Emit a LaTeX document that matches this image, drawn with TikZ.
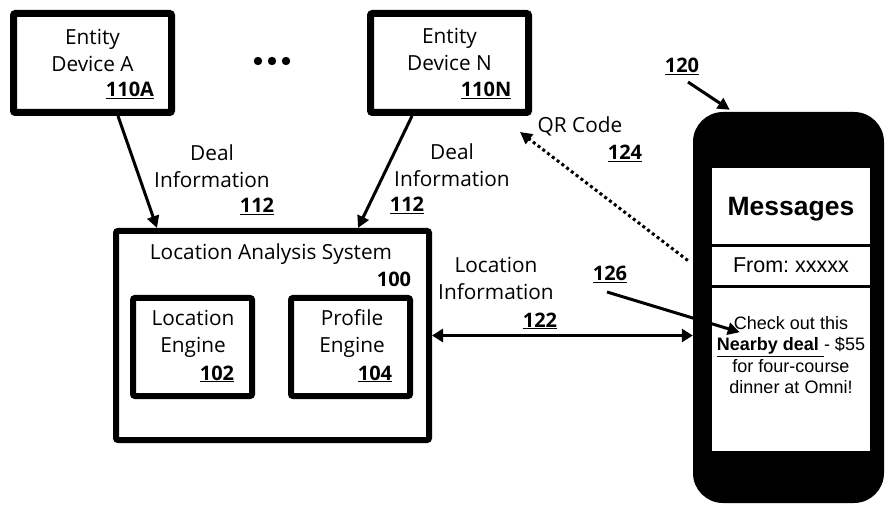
\documentclass[tikz,border=0pt]{standalone}
\usepackage{fontspec}
\setmainfont{Open Sans}
\newfontfamily\phonefont{Liberation Sans}
\usetikzlibrary{arrows.meta, positioning, calc}
\newcommand{\refnum}[1]{\underline{#1}}
\tikzstyle{device} = [rectangle, draw=black, line width=7pt, rounded corners=2pt, minimum width=158pt, minimum height=99pt, inner sep=0pt]
\tikzstyle{engine} = [rectangle, draw=black, line width=6pt, rounded corners=2pt, minimum width=119pt, minimum height=98pt, inner sep=0pt]
\tikzstyle{system} = [rectangle, draw=black, line width=6pt, rounded corners=2pt, minimum width=313pt, minimum height=209pt, inner sep=0pt]
\tikzstyle{phonebody} = [rectangle, fill=black, rounded corners=30pt, minimum width=191pt, minimum height=391pt, inner sep=0pt]
\tikzstyle{screen} = [rectangle, fill=white, minimum width=158pt, inner sep=0pt, font=\phonefont]
\tikzstyle{txt} = [inner sep=0pt, align=center, font=\fontsize{20.8}{27}\selectfont]
\tikzstyle{num} = [inner sep=0pt, anchor=base, font=\fontsize{20}{23}\selectfont\bfseries]
\tikzstyle{arrow_solid} = [line width=3pt, -{Triangle[length=12pt,width=12pt]}]
\tikzstyle{arrow_both} = [line width=3pt, {Triangle[length=11pt,width=13pt]}-{Triangle[length=11pt,width=13pt]}]
\tikzstyle{arrow_dotted} = [line width=3pt, dash pattern=on 3pt off 3pt, -{Triangle[length=12pt,width=12pt]}]

\begin{document}
\begin{tikzpicture}[x=1pt, y=-1pt]
	\useasboundingbox (0,0) rectangle (887,505);

		% Entity devices
		\node (devA) [device] at (92.5,63) {};
		\node (devAtext) [txt] at ($(devA)+(0,-13)$) {Entity\\Device A};
		\node (devAnum) [num] at (130,97) {\refnum{110A}};

		\node (devN) [device] at (449.5,63) {};
		\node (devNtext) [txt] at ($(devN)+(0,-14)$) {Entity\\Device N};
		\node (devNnum) [num] at (486,97) {\refnum{110N}};

		\foreach \x in {258,272,286} \fill (\x,61) circle (4.2pt);

		% Location analysis system
		\node (las) [system] at (272.5,335.5) {};
		\node (lasText) [txt, anchor=base] at (271,260) {Location Analysis System};
		\node (lasNum) [num] at (394,287) {100};

		\node (locEngine) [engine] at (192.5,347) {};
		\node (locText) [txt] at (193,334) {Location\\Engine};
		\node (locNum) [num] at (217,380) {\refnum{102}};

		\node (profEngine) [engine] at (350.5,347) {};
		\node (profText) [txt] at (352,334) {Profile\\Engine};
		\node (profNum) [num] at (375,380) {\refnum{104}};

		% User device
		\node (phone) [phonebody] at (788.5,307.5) {};
		\node (msgHead) [screen, minimum height=76pt, text height=19pt, text depth=0pt, font=\phonefont\fontsize{26.5}{30}\selectfont\bfseries] at (791,206) {Messages};
		\node (msgFrom) [screen, minimum height=38pt, text height=14pt, text depth=0pt, font=\phonefont\fontsize{21.5}{24}\selectfont] at (791,266) {From:\ xxxxx};
		\node (msgBody) [screen, minimum height=163pt] at (791,369.5) {};
		\node (msgText) [inner sep=0pt, align=center, font=\phonefont\fontsize{18}{21.3}\selectfont] at (791,355) {Check out this\\\underline{\textbf{Nearby deal }}- \$55\\for four-course\\dinner at Omni!};
		\node (phoneNum) [num] at (682,73) {\refnum{120}};
		\node (msgNum) [num] at (610,281) {\refnum{126}};

		% Labels on the connectors
		\node (deal1) [txt] at (212,166) {Deal\\Information};
		\node (deal1Num) [num] at (257,213) {\refnum{112}};
		\node (deal2) [txt] at (452,165) {Deal\\Information};
		\node (deal2Num) [num] at (407,212) {\refnum{112}};
		\node (qr) [txt, anchor=base] at (580,133) {QR Code};
		\node (qrNum) [num] at (625,160) {\refnum{124}};
		\node (locInfo) [txt] at (496,278.5) {Location\\Information};
		\node (locInfoNum) [num] at (540,327) {\refnum{122}};

		% -
		\draw [arrow_solid] ($(devA.south)+(25.5,0)$) -- ($(las.north west)+(44,0)$);
		\draw [arrow_solid] ($(devN.south)+(-37.5,0)$) -- ($(las.north east)+(-74,0)$);
		% -
		\draw [arrow_both] (las.east) -- (las.east -| phone.west);
		\draw [arrow_dotted] ($(phone.west)+(-5,-47)$) -- ($(devN.south east)+(-12,16)$);
		% -
		\coordinate (tail120) at (688,82);
		\draw [arrow_solid] (tail120) -- ($(phone.north west)+(37,-2)$);
		\coordinate (tail126) at (607,292);
		\draw [arrow_solid] (tail126) -- ($(msgText.north west)+(23,16)$);

\end{tikzpicture}
\end{document}
